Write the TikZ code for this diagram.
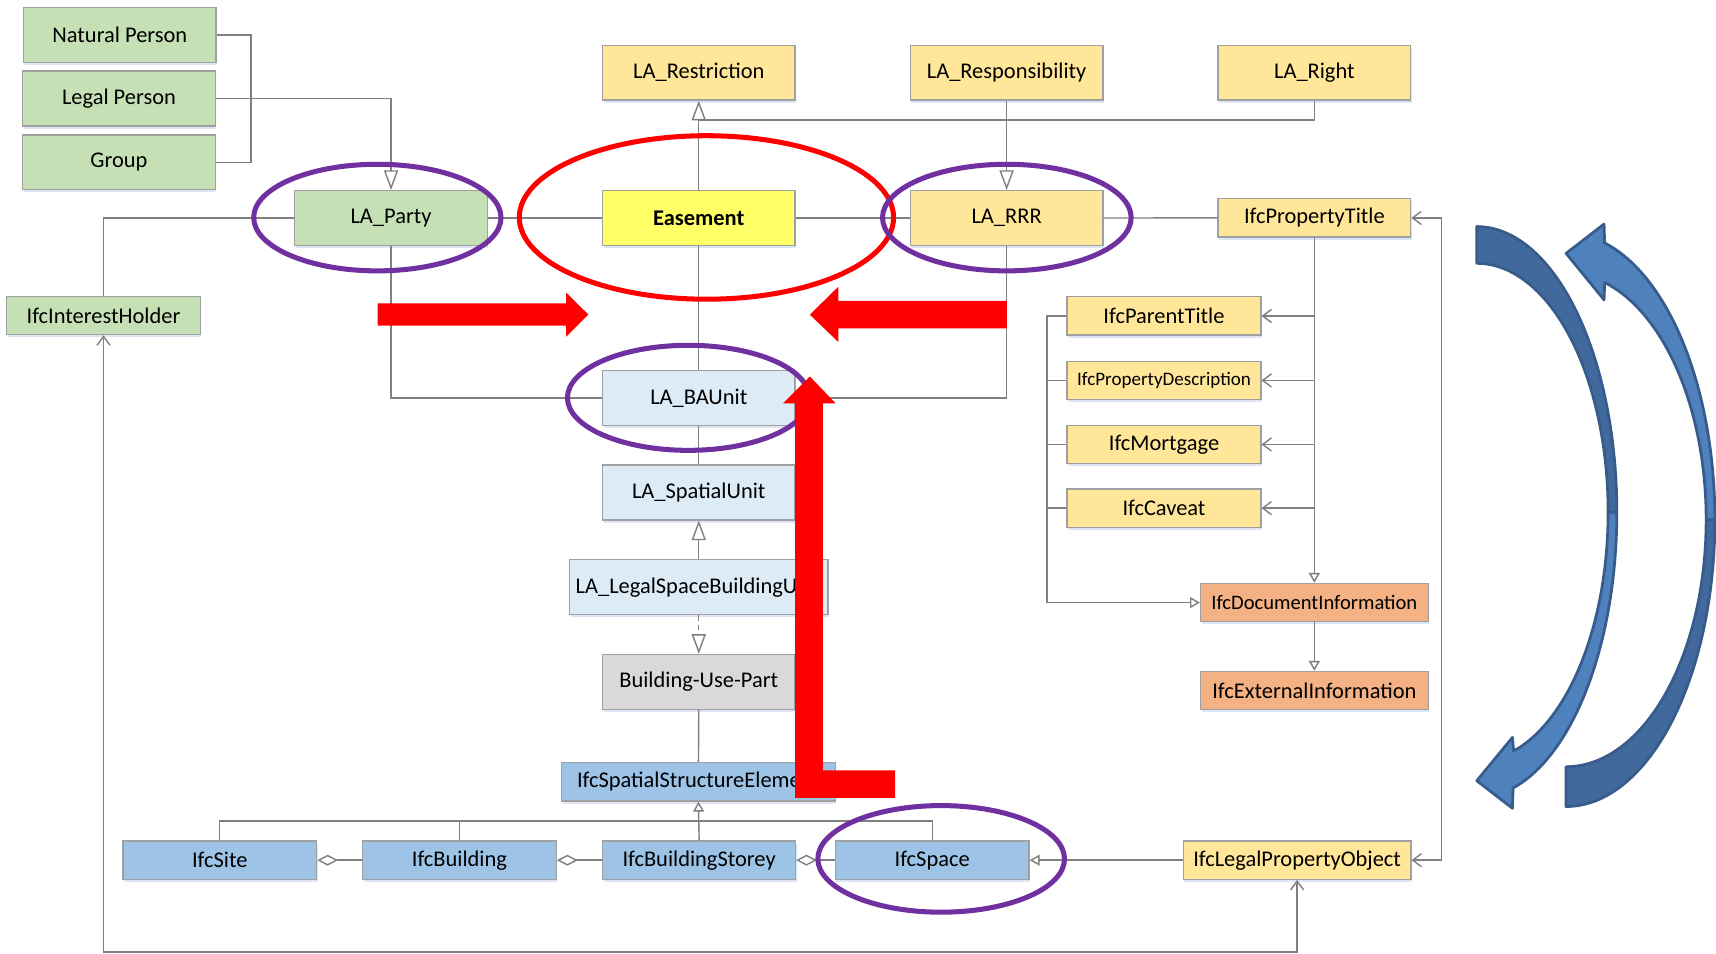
\documentclass[tikz,border=0pt]{standalone}
\usepackage{fontspec}
\setmainfont{Carlito}
\usetikzlibrary{arrows.meta,shadows}
\definecolor{cgreen}{HTML}{C5E0B4}
\definecolor{cyel}{HTML}{FFE699}
\definecolor{cease}{HTML}{FFFF66}
\definecolor{clblue}{HTML}{DDEBF7}
\definecolor{cgray}{HTML}{D9D9D9}
\definecolor{cmblue}{HTML}{9DC3E6}
\definecolor{corange}{HTML}{F4B183}
\definecolor{cborder}{HTML}{A0A0A0}
\definecolor{cline}{HTML}{808080}
\definecolor{cpurple}{HTML}{7030A0}
\definecolor{cred}{HTML}{FF0000}
\definecolor{bdark}{HTML}{41699B}
\definecolor{blight}{HTML}{4F81BD}
\definecolor{bline}{HTML}{375C8C}
\definecolor{shadowc}{HTML}{B4C7E7}
\newcommand\fs{\fontsize{20.5}{24}\selectfont}
\begin{document}
\begin{tikzpicture}[x=1pt,y=-1pt,
  nbox/.style={draw=cborder, line width=1.2pt, inner sep=0pt, font=\fs, text=black,
    drop shadow={shadow xshift=1pt,shadow yshift=-2.5pt,opacity=.45,fill=shadowc,draw=none}},
  conn/.style={draw=cline, line width=1.3pt},
  gen/.style={-{Triangle[open,length=18pt,width=13pt]}},
  gensm/.style={-{Triangle[open,length=9pt,width=10pt]}},
  barb/.style={-{Straight Barb[length=8pt,width=12pt]}},
  agg/.style={{Diamond[open,length=19pt,width=10pt]}-},
  ring/.style={line width=4.6pt},
  blob/.style={line width=2.5pt, draw=bline, line join=round}
]
\useasboundingbox (0,0) rectangle (1568,871);
\fill[white] (0,0) rectangle (1568,871);

% ---------- boxes ----------
\node[nbox, fill=cgreen, minimum width=176pt, minimum height=50pt] (np) at (109.5,32) {Natural Person};
\node[nbox, fill=cgreen, minimum width=176pt, minimum height=50pt] (lp) at (108.7,90) {Legal Person};
\node[nbox, fill=cgreen, minimum width=176pt, minimum height=50pt] (gr) at (108.7,148.3) {Group};
\node[nbox, fill=cgreen, minimum width=176pt, minimum height=50pt] (party) at (357.3,199.2) {LA\_Party};
\node[nbox, fill=cgreen, minimum width=177pt, minimum height=35pt] (ihold) at (94.6,288.3) {IfcInterestHolder};

\node[nbox, fill=cyel, minimum width=176pt, minimum height=50pt] (restr) at (638.5,66.4) {LA\_Restriction};
\node[nbox, fill=cyel, minimum width=176pt, minimum height=50pt] (resp) at (919.8,66.4) {LA\_Responsibility};
\node[nbox, fill=cyel, minimum width=176pt, minimum height=50pt] (right) at (1201,66.4) {LA\_Right};
\node[nbox, fill=cease, minimum width=176pt, minimum height=50pt, font=\fs\bfseries] (ease) at (638.5,199.2) {Easement};
\node[nbox, fill=cyel, minimum width=176pt, minimum height=50pt] (rrr) at (919.8,199.2) {LA\_RRR};
\node[nbox, fill=cyel, minimum width=176pt, minimum height=35pt] (ptitle) at (1201,199.1) {IfcPropertyTitle};

\node[nbox, fill=clblue, minimum width=176pt, minimum height=50pt] (ba) at (638.5,363.5) {LA\_BAUnit};
\node[nbox, fill=clblue, minimum width=176pt, minimum height=50pt] (su) at (638.5,450) {LA\_SpatialUnit};
\node[nbox, fill=clblue, minimum width=236pt, minimum height=50pt] (lsbu) at (638.5,536.5) {LA\_LegalSpaceBuildingUnit};
\node[nbox, fill=cgray, minimum width=176pt, minimum height=50pt] (bup) at (638.5,623) {Building-Use-Part};
\node[nbox, fill=cmblue, minimum width=250pt, minimum height=35pt] (sse) at (638.2,714.5) {IfcSpatialStructureElement};

\node[nbox, fill=cmblue, minimum width=177pt, minimum height=35pt] (site) at (200.8,786) {IfcSite};
\node[nbox, fill=cmblue, minimum width=177pt, minimum height=35pt] (bldg) at (419.8,786) {IfcBuilding};
\node[nbox, fill=cmblue, minimum width=176pt, minimum height=35pt] (storey) at (638.8,786) {IfcBuildingStorey};
\node[nbox, fill=cmblue, minimum width=177pt, minimum height=35pt] (space) at (851.8,786) {IfcSpace};
\node[nbox, fill=cyel, minimum width=208pt, minimum height=35pt] (lpo) at (1185.2,786) {IfcLegalPropertyObject};

\node[nbox, fill=cyel, minimum width=177pt, minimum height=35pt] (parent) at (1063.6,288.7) {IfcParentTitle};
\node[nbox, fill=cyel, minimum width=177pt, minimum height=35pt, font=\fontsize{17.4}{20}\selectfont] (pdesc) at (1063.6,347.6) {IfcPropertyDescription};
\node[nbox, fill=cyel, minimum width=177pt, minimum height=35pt] (mort) at (1063.6,406.1) {IfcMortgage};
\node[nbox, fill=cyel, minimum width=177pt, minimum height=35pt] (cav) at (1063.6,464.3) {IfcCaveat};
\node[nbox, fill=corange, minimum width=208pt, minimum height=35pt, font=\fontsize{18.8}{22}\selectfont] (doc) at (1201,550.6) {IfcDocumentInformation};
\node[nbox, fill=corange, minimum width=208pt, minimum height=35pt] (ext) at (1201,631) {IfcExternalInformation};

% ---------- helper coordinates ----------
\coordinate (bk) at (229.4,90);
\coordinate (rj) at (638.5,109.7);
\coordinate (gl) at (0,750);
\coordinate (bl) at (0,869.7);
\coordinate (rb) at (1317,0);
\coordinate (lb) at (956.5,0);

% ---------- connectors ----------
\begin{scope}[on background layer/.style={}]
\draw[conn] (np.east) -| (bk) |- (gr.east);
\draw[conn,gen] (lp.east) -| (party.north);
\draw[conn] (ihold.north) |- (party.west);
\draw[conn] (party.east) -- (ease.west);
\draw[conn] (ease.east) -- (rrr.west);
\draw[conn] (rrr.east) -- (ptitle.west);
\draw[conn,gen] (ease.north) -- (restr.south);
\draw[conn] (right.south) |- (rj);
\draw[conn,gen] (resp.south) -- (rrr.north);
\draw[conn] (party.south) |- (ba.west);
\draw[conn] (rrr.south) |- (ba.east);
\draw[conn] (ease.south) -- (ba.north);
\draw[conn] (ba.south) -- (su.north);
\draw[conn,gen] (lsbu.north) -- (su.south);
\draw[conn,gen,dash pattern=on 5pt off 4pt] (lsbu.south) -- (bup.north);
\draw[conn] (bup.south) -- (sse.north);
\draw[conn,gensm] (storey.north) -- (sse.south);
\draw[conn] (site.north) -- (site.north |- gl) -- (space.north |- gl) -- (space.north);
\draw[conn] (bldg.north) -- (bldg.north |- gl);
\draw[conn,agg] (site.east) -- (bldg.west);
\draw[conn,agg] (bldg.east) -- (storey.west);
\draw[conn,agg] (storey.east) -- (space.west);
\draw[conn,gensm] (lpo.west) -- (space.east);
\draw[conn,{Straight Barb[length=8pt,width=12pt]}-{Straight Barb[length=8pt,width=12pt]}]
  (ihold.south) -- (ihold.south |- bl) -- (lpo.south |- bl) -- (lpo.south);
\draw[conn,{Straight Barb[length=8pt,width=12pt]}-{Straight Barb[length=8pt,width=12pt]}]
  (ptitle.east) -- (ptitle.east -| rb) -- (lpo.east -| rb) -- (lpo.east);
\draw[conn,gensm] (ptitle.south) -- (doc.north);
\draw[conn,barb] (ptitle.south |- parent) -- (parent.east);
\draw[conn,barb] (ptitle.south |- pdesc) -- (pdesc.east);
\draw[conn,barb] (ptitle.south |- mort) -- (mort.east);
\draw[conn,barb] (ptitle.south |- cav) -- (cav.east);
\draw[conn,gensm] (parent.west) -- (parent.west -| lb) |- (doc.west);
\draw[conn] (pdesc.west) -- (pdesc.west -| lb);
\draw[conn] (mort.west) -- (mort.west -| lb);
\draw[conn] (cav.west) -- (cav.west -| lb);
\draw[conn,gensm] (doc.south) -- (ext.north);
\end{scope}

% ---------- highlight ellipses ----------
\draw[ring, cpurple] (344.8,198.8) ellipse [x radius=113, y radius=48.7];
\draw[ring, cred] (645.5,198.7) ellipse [x radius=171, y radius=74.7];
\draw[ring, cpurple] (920,198.8) ellipse [x radius=113.6, y radius=48.7];
\draw[ring, cpurple] (629,363.5) ellipse [x radius=110.5, y radius=48];
\draw[ring, cpurple] (860,784.8) ellipse [x radius=112.7, y radius=48.7];

% ---------- red arrows ----------
\fill[cred] (345,277.2) -- (517.3,277.2) -- (517.3,267.4) -- (537.6,287.4)
  -- (517.3,307.7) -- (517.3,297.6) -- (345,297.6) -- cycle;
\fill[cred] (920,275) -- (766,275) -- (766,262) -- (740,287.5)
  -- (766,312.5) -- (766,300) -- (920,300) -- cycle;
\fill[cred] (740,344) -- (763.5,368.5) -- (752,368.5) -- (752,704) -- (818,704)
  -- (818,729) -- (726.5,729) -- (726.5,368.5) -- (715.5,368.5) -- cycle;

% ---------- blue curved arrows ----------
\filldraw[blob, fill=bdark]
  plot[domain=90:0,samples=40] ({1349.4+128*cos(\x)},{468-261*sin(\x)})
  -- plot[domain=0:90,samples=40] ({1349.4+120*cos(\x)},{468-227.4*sin(\x)}) -- cycle;
\filldraw[blob, fill=blight]
  plot[domain=0:-75,samples=40] ({1349.4+128*cos(\x)},{468-261*sin(\x)})
  -- (1382,738.6) -- (1349.4,713.4) -- (1382,673.8)
  -- plot[domain=-73.7:0,samples=40] ({1349.4+120*cos(\x)},{468-227.4*sin(\x)}) -- cycle;
\filldraw[blob, fill=bdark]
  plot[domain=-90:0,samples=40] ({1431+136*cos(\x)},{475-262*sin(\x)})
  -- plot[domain=0:-90,samples=40] ({1431+128*cos(\x)},{475-225.6*sin(\x)}) -- cycle;
\filldraw[blob, fill=blight]
  plot[domain=0:75,samples=40] ({1431+136*cos(\x)},{475-262*sin(\x)})
  -- (1465.7,204.7) -- (1431,231.5) -- (1465.7,274)
  -- plot[domain=74:0,samples=40] ({1431+128*cos(\x)},{475-225.6*sin(\x)}) -- cycle;
\end{tikzpicture}
\end{document}
